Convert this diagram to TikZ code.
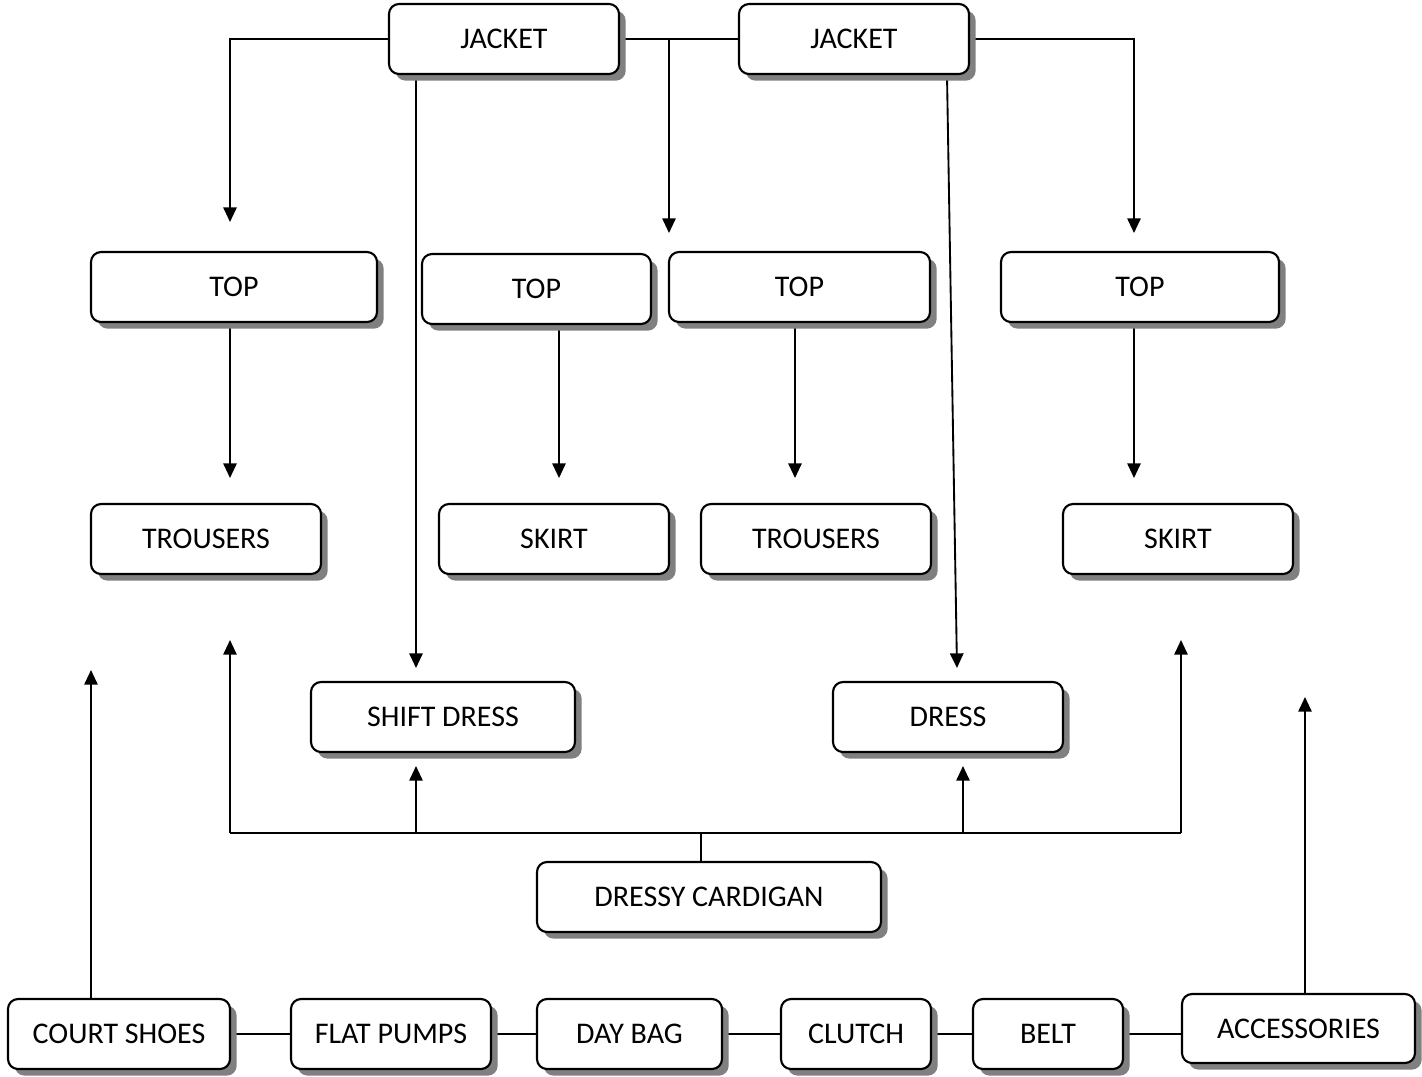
\documentclass[tikz,border=0pt]{standalone}
\usepackage{fontspec}
\setmainfont{Carlito}
\usetikzlibrary{arrows.meta,shadows,calc}
\pgfdeclarelayer{background}
\pgfsetlayers{background,main}
\begin{document}
\begin{tikzpicture}[x=0.75pt,y=-0.75pt,
  box/.style={draw=black,line width=1.6pt,fill=white,rounded corners=7.5pt,
    minimum height=52.5pt,inner sep=0pt,font=\fontsize{22.5}{25}\selectfont,
    drop shadow={shadow xshift=5pt,shadow yshift=-5pt,fill=black!50,opacity=1}},
  conn/.style={line width=1.4pt},
  arr/.style={conn,-{Triangle[length=11pt,width=10pt]}}]
\useasboundingbox (0,0) rectangle (1422,1076);
% nodes
\node[box,minimum width=172.5pt] (jk1) at (504,39) {JACKET};
\node[box,minimum width=172.5pt] (jk2) at (854,39) {JACKET};
\node[box,minimum width=214.5pt] (top1) at (234,287) {TOP};
\node[box,minimum width=171.75pt] (top2) at (536.5,289) {TOP};
\node[box,minimum width=195.75pt] (top3) at (799.5,287) {TOP};
\node[box,minimum width=208.5pt] (top4) at (1140,287) {TOP};
\node[box,minimum width=172.5pt] (tr1) at (206,539) {TROUSERS};
\node[box,minimum width=172.5pt] (sk1) at (554,539) {SKIRT};
\node[box,minimum width=172.5pt] (tr2) at (816,539) {TROUSERS};
\node[box,minimum width=172.5pt] (sk2) at (1178,539) {SKIRT};
\node[box,minimum width=198pt] (sd) at (443,717) {SHIFT DRESS};
\node[box,minimum width=172.5pt] (dr) at (948,717) {DRESS};
\node[box,minimum width=258pt] (dc) at (709,897) {DRESSY CARDIGAN};
\node[box,minimum width=166.5pt] (cs) at (119,1034) {COURT SHOES};
\node[box,minimum width=150pt] (fp) at (391,1034) {FLAT PUMPS};
\node[box,minimum width=138.75pt] (db) at (629.5,1034) {DAY BAG};
\node[box,minimum width=112.5pt] (cl) at (856,1034) {CLUTCH};
\node[box,minimum width=112.5pt] (bl) at (1048,1034) {BELT};
\node[box,minimum width=174.75pt,minimum height=51.75pt] (ac) at (1298.5,1028.5) {ACCESSORIES};
% free ends
\coordinate (a1) at (230,222);
\coordinate (j12) at (669,39);
\coordinate (a2) at (669,233);
\coordinate (a3) at (1134,233);
\coordinate (a4) at (416,668);
\coordinate (a5) at (957,668);
\coordinate (t1) at (230,478);
\coordinate (t2) at (559,478);
\coordinate (t3) at (795,478);
\coordinate (t4) at (1134,478);
\coordinate (hl) at (230,833);
\coordinate (hr) at (1181,833);
\coordinate (hm) at (701,833);
\coordinate (u1) at (230,640);
\coordinate (u2b) at (416,833);
\coordinate (u2) at (416,766);
\coordinate (u3b) at (963,833);
\coordinate (u3) at (963,766);
\coordinate (u4) at (1181,640);
\coordinate (cu) at (91,670);
\coordinate (au) at (1305,697);
\begin{pgfonlayer}{background}
\draw[arr] (jk1.west) -| (a1);
\draw[conn] (jk1.east) -- (jk2.west);
\draw[arr] (j12) -- (a2);
\draw[arr] (jk2.east) -| (a3);
\draw[arr] (jk1.south -| a4) -- (a4);
\draw[arr] ($(jk2.south)+(93,0)$) -- (a5);
\draw[arr] (top1.south -| t1) -- (t1);
\draw[arr] (top2.south -| t2) -- (t2);
\draw[arr] (top3.south -| t3) -- (t3);
\draw[arr] (top4.south -| t4) -- (t4);
\draw[conn] (dc.north -| hm) -- (hm);
\draw[conn] (hl) -- (hr);
\draw[arr] (hl) -- (u1);
\draw[arr] (u2b) -- (u2);
\draw[arr] (u3b) -- (u3);
\draw[arr] (hr) -- (u4);
\draw[arr] (cs.north -| cu) -- (cu);
\draw[arr] (ac.north -| au) -- (au);
\draw[conn] (cs.east) -- (fp.west);
\draw[conn] (fp.east) -- (db.west);
\draw[conn] (db.east) -- (cl.west);
\draw[conn] (cl.east) -- (bl.west);
\draw[conn] (bl.east) -- (bl.east -| ac.west);
\end{pgfonlayer}
\end{tikzpicture}
\end{document}
